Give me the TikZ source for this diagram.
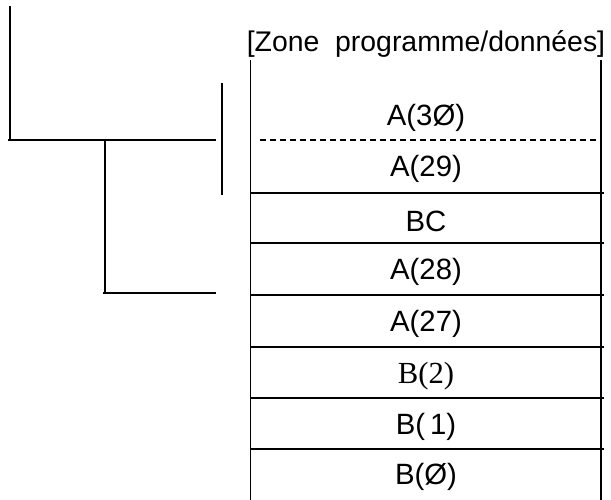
\documentclass[tikz,border=0pt]{standalone}
\usepackage{fontspec}
\setmainfont{Liberation Sans}
\newfontfamily\serifB{Liberation Serif}
\begin{document}
\begin{tikzpicture}[x=0.75pt,y=-0.75pt,
  ln/.style={line width=1pt,black},
  cell/.style={font=\fontsize{22}{26}\selectfont,inner sep=0pt,anchor=center},
  dsh/.style={line width=0.9pt,dash pattern=on 4.5pt off 3pt}]
\useasboundingbox (0,0) rectangle (611,500);
% left bracket lines
\draw[ln] (10,6) -- (10,141);
\draw[ln] (8,140) -- (216,140);
\draw[ln] (105,140) -- (105,294);
\draw[ln] (103,293) -- (216,293);
\draw[ln] (222,83) -- (222,195);
% title
\node[cell,font=\fontsize{21.3}{26}\selectfont] (title) at (426,44) {[Zone\ \ programme/données]};
% box
\draw[ln] (250.5,60) -- (250.5,500);
\draw[ln] (601,60) -- (601,500);
\draw[dsh] (260,140) -- (598,140);
\foreach \y in {193,243,295,347,398,449} \draw[ln] (250,\y) -- (604,\y);
% cells
\node[cell] (a30) at (426,118) {A(3Ø)};
\node[cell] (a29) at (426,169) {A(29)};
\node[cell] (bc) at (426,221) {BC};
\node[cell] (a28) at (426,272) {A(28)};
\node[cell] (a27) at (426,324) {A(27)};
\node[cell,font=\serifB\fontsize{23}{26}\selectfont] (b2) at (426,376) {B(2)};
\node[cell] (b1) at (426,427) {B(\,1)};
\node[cell] (b0) at (426,477) {B(Ø)};
\end{tikzpicture}
\end{document}
